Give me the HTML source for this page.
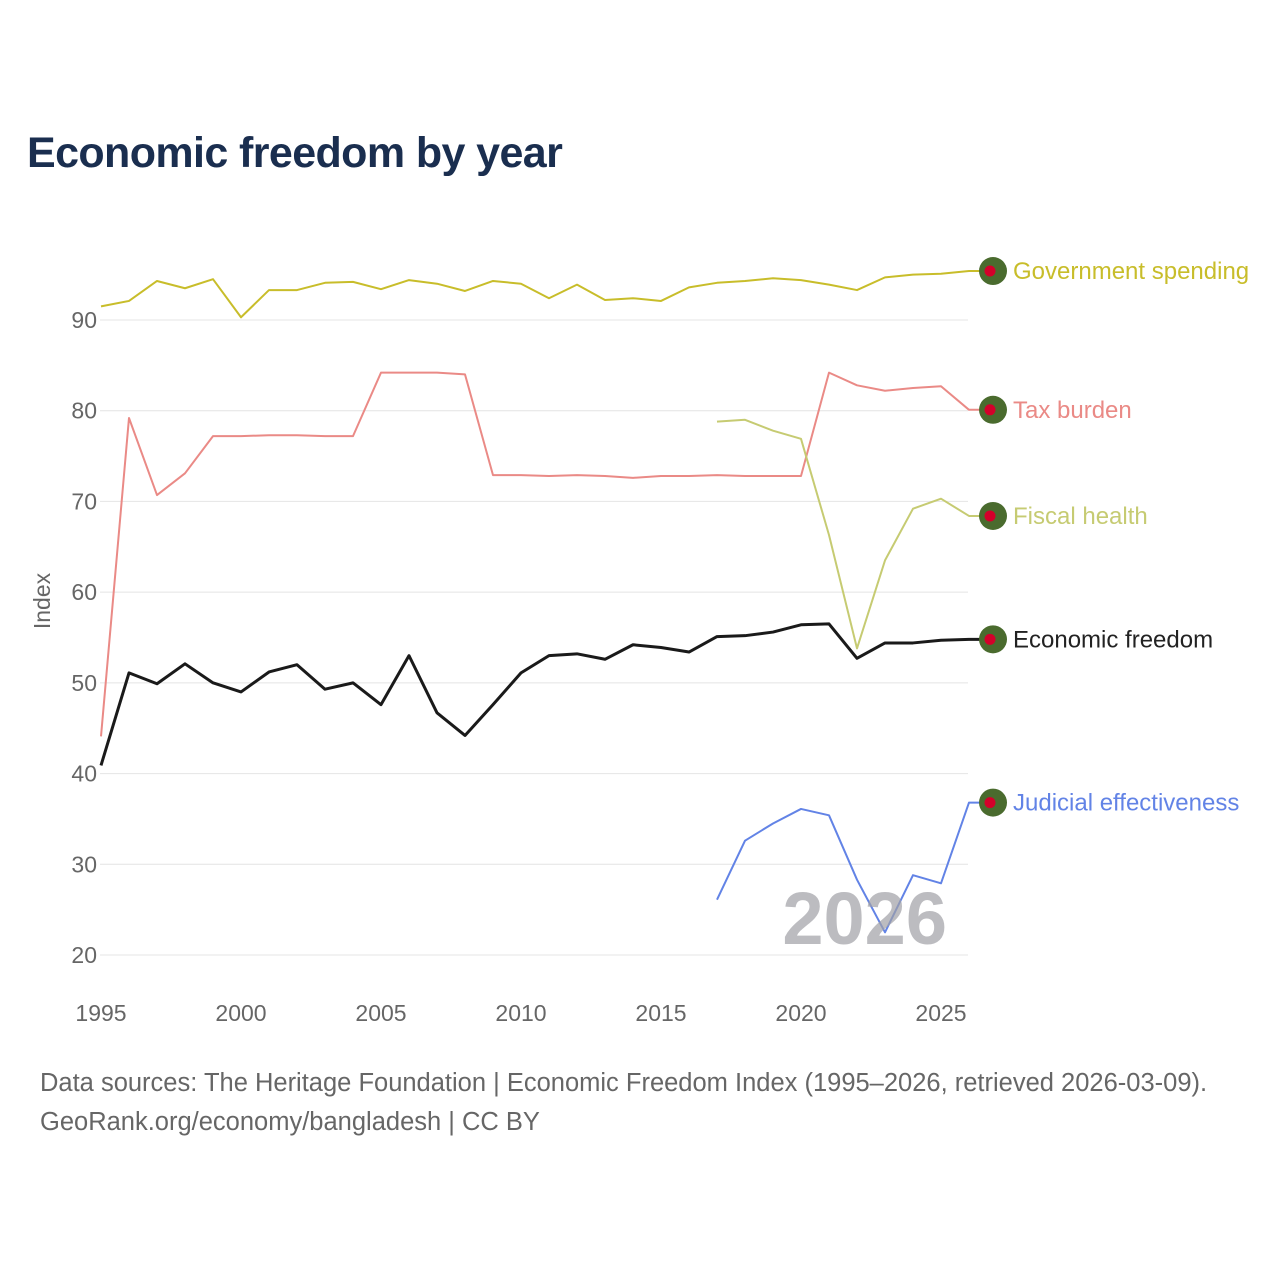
<!DOCTYPE html>
<html><head><meta charset="utf-8">
<style>
html,body{margin:0;padding:0;background:#fff;}
body{width:1280px;height:1280px;position:relative;font-family:"Liberation Sans",sans-serif;overflow:hidden;}
#title{position:absolute;left:27px;top:129px;font-size:43px;font-weight:bold;color:#1a2e4f;margin:0;letter-spacing:-0.6px;}
#src{position:absolute;left:40px;top:1064px;font-size:25.5px;color:#666;line-height:39px;}
svg{position:absolute;left:0;top:0;}
</style></head><body>
<h1 id="title">Economic freedom by year</h1>
<svg id="chart" width="1280" height="1280"></svg>
<div id="src">Data sources: The Heritage Foundation | Economic Freedom Index (1995–2026, retrieved 2026-03-09).<br>GeoRank.org/economy/bangladesh | CC BY</div>
<script>
const years = [1995,1996,1997,1998,1999,2000,2001,2002,2003,2004,2005,2006,2007,2008,2009,2010,2011,2012,2013,2014,2015,2016,2017,2018,2019,2020,2021,2022,2023,2024,2025,2026];
const govSpending = [91.5,92.1,94.3,93.5,94.5,90.3,93.3,93.3,94.1,94.2,93.4,94.4,94.0,93.2,94.3,94.0,92.4,93.9,92.2,92.4,92.1,93.6,94.1,94.3,94.6,94.4,93.9,93.3,94.7,95.0,95.1,95.4];
const taxBurden = [44.1,79.2,70.7,73.1,77.2,77.2,77.3,77.3,77.2,77.2,84.2,84.2,84.2,84.0,72.9,72.9,72.8,72.9,72.8,72.6,72.8,72.8,72.9,72.8,72.8,72.8,84.2,82.8,82.2,82.5,82.7,80.1];
const fiscalHealth = [null,null,null,null,null,null,null,null,null,null,null,null,null,null,null,null,null,null,null,null,null,null,78.8,79.0,77.8,76.9,66.3,53.8,63.5,69.2,70.3,68.4];
const econFreedom = [40.9,51.1,49.9,52.1,50.0,49.0,51.2,52.0,49.3,50.0,47.6,53.0,46.7,44.2,47.6,51.1,53.0,53.2,52.6,54.2,53.9,53.4,55.1,55.2,55.6,56.4,56.5,52.7,54.4,54.4,54.7,54.8];
const judicial = [null,null,null,null,null,null,null,null,null,null,null,null,null,null,null,null,null,null,null,null,null,null,26.1,32.6,34.5,36.1,35.4,28.3,22.5,28.8,27.9,36.8];
const yTicks = [20,30,40,50,60,70,80,90];
const xTicks = [1995,2000,2005,2010,2015,2020,2025];

const NS="http://www.w3.org/2000/svg";
const svg=document.getElementById('chart');
const xS=v=>101+(v-1995)*28;
const yS=v=>320+(90-v)*(635/70);
function mk(t,a,txt){const e=document.createElementNS(NS,t);for(const k in a)e.setAttribute(k,a[k]);if(txt!==undefined)e.textContent=txt;svg.appendChild(e);return e;}

yTicks.forEach(v=>{
  const g=mk('line',{x1:100,x2:968,y1:yS(v),y2:yS(v),stroke:'#e4e4e4','stroke-width':1});
  
  
  const t=mk('text',{x:97,y:yS(v)+8,'text-anchor':'end','font-size':23,fill:'#666'},v);
  
  
});
xTicks.forEach(v=>{
  const t=mk('text',{x:xS(v),y:1021,'text-anchor':'middle','font-size':23,fill:'#666'},v);
  
  
});
const yt=mk('text',{x:0,y:0,transform:'translate(50,601) rotate(-90)','text-anchor':'middle','font-size':23,fill:'#666'},'Index');



const series=[
 {name:'Government spending',data:govSpending,color:'#c8bd2a',w:2,key:'government-spending'},
 {name:'Tax burden',data:taxBurden,color:'#ea8a86',w:2,key:'tax-burden'},
 {name:'Fiscal health',data:fiscalHealth,color:'#c6cb72',w:2,key:'fiscal-health'},
 {name:'Economic freedom',data:econFreedom,color:'#1a1a1a',w:3,key:'economic-freedom',label:'#222'},
 {name:'Judicial effectiveness',data:judicial,color:'#6283e6',w:2,key:'judicial-effectiveness'}
];
series.forEach(s=>{
  let d='';let last=null;
  s.data.forEach((v,i)=>{if(v===null)return;d+=(d?'L':'M')+xS(years[i])+','+yS(v);last=v;});
  const ly=yS(last);
  d+='L980,'+ly;
  const p=mk('path',{d:d,fill:'none',stroke:s.color,'stroke-width':s.w,'stroke-linejoin':'round'});
  
  
  const c=mk('circle',{cx:993,cy:ly,r:14,fill:'#4a6b2e'});
  
  
  const c2=mk('circle',{cx:990,cy:ly,r:5.5,fill:'#d4002a'});
  
  
  const t=mk('text',{x:1013,y:ly+8,'font-size':24,fill:s.label||s.color},s.name);
  
  
});
const yr=mk('text',{x:947,y:944,'text-anchor':'end','font-size':74,'font-weight':'bold',fill:'rgba(160,160,165,0.7)'},'2026');


</script>
</body></html>
